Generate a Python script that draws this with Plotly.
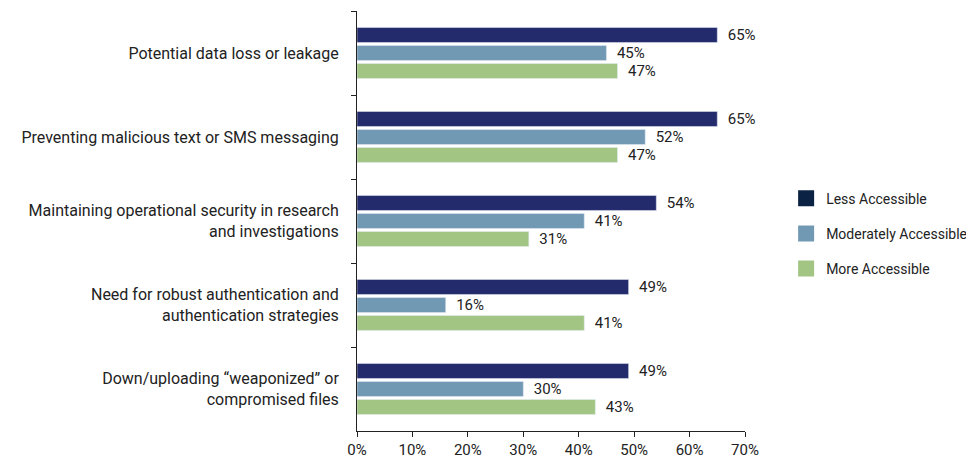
import plotly.graph_objects as go

# categories and values (percent)
categories = [
    "Potential data loss or leakage",
    "Preventing malicious text or SMS messaging",
    "Maintaining operational security in research<br>and investigations",
    "Need for robust authentication and<br>authentication strategies",
    "Down/uploading \u201cweaponized\u201d or<br>compromised files",
]
less_accessible = [65, 65, 54, 49, 49]
moderately_accessible = [45, 52, 41, 16, 30]
more_accessible = [47, 47, 31, 41, 43]

series_names = ["Less Accessible", "Moderately Accessible", "More Accessible"]
bar_colours = ["#242B6D", "#7299B4", "#A2C584"]
legend_colours = ["#0B2244", "#7299B4", "#A2C584"]

FONT = "Roboto, sans-serif"

fig = go.Figure()

for name, values, colour in zip(series_names,
                                [less_accessible, moderately_accessible, more_accessible],
                                bar_colours):
    fig.add_trace(go.Bar(
        y=categories,
        x=values,
        orientation="h",
        name=name,
        marker=dict(color=colour),
        # a little extra room between bar end and label
        text=[f"\u00a0\u00a0{v}%" for v in values],
        textposition="outside",
        constraintext="none",
        textfont=dict(size=15, color="#222222", family=FONT),
        cliponaxis=False,
        showlegend=False,
    ))

# legend entries with large square swatches
for name, colour in zip(series_names, legend_colours):
    fig.add_trace(go.Scatter(
        x=[None], y=[None],
        mode="markers",
        name=name,
        legendgroup=name,
        marker=dict(symbol="square", size=16, color=colour),
    ))

# page body has an 8px margin, so the figure is sized to fit the window
fig.update_layout(
    width=966,
    height=453,
    margin=dict(l=349, r=229, t=3, b=30, autoexpand=False),
    paper_bgcolor="white",
    plot_bgcolor="white",
    font=dict(family=FONT, size=16, color="#222222"),
    barmode="group",
    bargap=0.357,
    bargroupgap=0.17,
    legend=dict(
        x=1.106, xanchor="left",
        y=0.47, yanchor="middle",
        font=dict(size=14, color="#222222", family=FONT),
        itemsizing="trace",
        tracegroupgap=14,
        bgcolor="rgba(0,0,0,0)",
    ),
)

fig.update_xaxes(
    range=[0, 70],
    dtick=10,
    ticksuffix="%",
    showgrid=False,
    zeroline=False,
    showline=True,
    linecolor="#222222",
    linewidth=1,
    ticks="outside",
    ticklen=5,
    tickcolor="#222222",
    tickfont=dict(size=15),
)

fig.update_yaxes(
    autorange="reversed",
    showgrid=False,
    showline=True,
    linecolor="#222222",
    linewidth=1,
    ticks="outside",
    tickson="boundaries",
    ticklen=5,
    tickcolor="#222222",
    ticklabelstandoff=14,
    tickfont=dict(size=16),
)

fig.write_html("out.html")
